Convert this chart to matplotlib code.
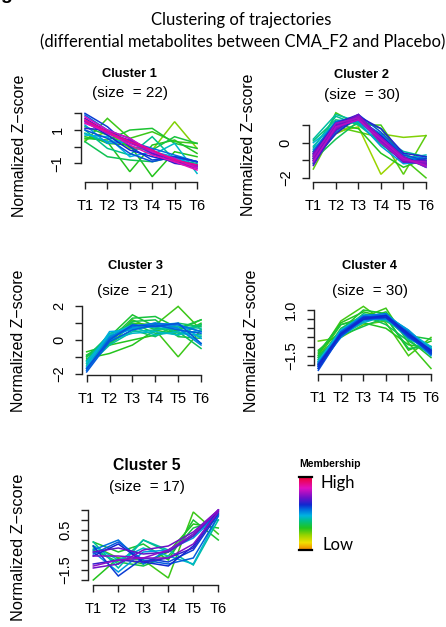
import matplotlib
matplotlib.use("Agg")
import matplotlib.pyplot as plt
import numpy as np
from matplotlib.colors import LinearSegmentedColormap

# ---------------- data ----------------
time_points = [1, 2, 3, 4, 5, 6]
time_labels = ["T1", "T2", "T3", "T4", "T5", "T6"]
cluster_titles = ["Cluster 1", "Cluster 2", "Cluster 3", "Cluster 4", "Cluster 5"]
cluster_sizes = [22, 30, 21, 30, 17]

c1_membership = [0.22, 0.28, 0.30, 0.30, 0.32, 0.33, 0.35, 0.40, 0.45, 0.47, 0.50,
                 0.55, 0.58, 0.60, 0.62, 0.65, 0.70, 0.75, 0.80, 0.83, 0.86, 0.90]
c1_values = [
    [0.4, 0.9, -0.1, -0.2, 1.5, -0.1],
    [0.3, 1.7, 0.5, 0.9, 0.3, 0.2],
    [0.6, 0.3, -1.5, 0.1, 0.4, -0.4],
    [0.8, 0.2, 0.1, -1.8, -0.3, -0.6],
    [0.5, 0.4, 1.0, 1.1, 0.2, -0.1],
    [1.2, 0.7, 0.0, -0.2, 0.6, 0.2],
    [0.3, -0.6, -0.8, -0.9, -0.6, -0.9],
    [1.0, -0.1, -0.5, 0.6, -0.8, -1.0],
    [0.8, 0.3, 0.4, -0.5, 0.2, -1.6],
    [0.7, 0.6, -0.6, -0.3, -0.6, -1.2],
    [1.3, 0.2, 0.3, -0.4, -0.7, -0.9],
    [1.9, 1.0, 0.3, -0.1, -0.5, -0.9],
    [1.0, 0.5, -0.4, -0.9, -0.6, -0.9],
    [2.0, 1.2, 0.0, -0.8, -0.6, -0.9],
    [1.5, 0.7, -0.2, -0.6, -0.9, -1.1],
    [1.1, 1.0, 0.5, -0.4, -1.0, -1.2],
    [1.7, 0.9, 0.3, -0.4, -0.8, -1.1],
    [1.6, 0.8, 0.4, -0.2, -0.9, -1.3],
    [1.5, 0.8, 0.2, -0.3, -0.8, -1.2],
    [1.8, 1.0, 0.5, -0.3, -0.7, -1.3],
    [1.4, 0.9, 0.1, -0.5, -0.9, -1.4],
    [1.6, 0.9, 0.3, -0.2, -0.8, -1.1],
]

c2_membership = [0.20, 0.22, 0.25, 0.27, 0.30, 0.32, 0.35, 0.38, 0.40, 0.42, 0.44, 0.46,
                 0.48, 0.50, 0.52, 0.54, 0.56, 0.58, 0.60, 0.62, 0.64, 0.66, 0.68, 0.70,
                 0.72, 0.74, 0.76, 0.78, 0.80, 0.72]
c2_values = [
    [-0.9, 0.6, 0.9, -1.8, -0.6, -1.2],
    [-0.7, 0.5, 1.1, 0.5, 0.3, 0.4],
    [-1.5, 0.9, 0.6, 0.3, -1.8, 0.4],
    [-0.9, 1.7, 1.0, 1.0, -0.9, -2.0],
    [-1.2, 1.0, 0.8, -0.6, -1.4, -0.9],
    [-0.5, 0.7, 1.3, 0.8, -0.8, -1.1],
    [-1.0, 0.2, 1.2, 0.2, -1.0, -1.3],
    [0.1, 1.3, 1.1, -0.1, -1.0, -0.9],
    [-0.3, 1.5, 1.0, 0.0, -0.7, -1.1],
    [0.2, 1.6, 1.2, 0.3, -0.5, -0.8],
    [-0.2, 1.2, 1.3, 0.1, -0.9, -0.7],
    [0.0, 1.0, 1.4, 0.4, -0.6, -1.3],
    [-0.6, 0.9, 1.5, 0.2, -1.1, -1.0],
    [-0.4, 1.1, 1.2, -0.2, -1.2, -1.1],
    [-0.8, 0.8, 1.3, 0.5, -0.8, -1.4],
    [-1.1, 0.6, 1.4, 0.0, -1.0, -0.8],
    [-0.5, 1.2, 1.5, 0.3, -0.9, -1.2],
    [-0.9, 0.7, 1.6, 0.6, -0.7, -1.0],
    [-1.2, 0.9, 1.4, 0.1, -1.1, -0.9],
    [-0.7, 1.0, 1.3, 0.4, -0.8, -1.3],
    [-1.0, 0.5, 1.5, 0.8, -0.6, -0.8],
    [-0.6, 1.1, 1.6, 0.2, -1.0, -1.1],
    [-1.3, 0.8, 1.4, 0.3, -0.9, -1.2],
    [-0.8, 0.7, 1.5, 0.0, -1.1, -1.0],
    [-0.9, 1.0, 1.4, 0.2, -0.9, -1.3],
    [-0.7, 0.9, 1.3, 0.1, -1.0, -1.2],
    [-1.0, 0.8, 1.5, 0.3, -0.8, -1.4],
    [-0.8, 1.1, 1.4, 0.0, -1.0, -1.1],
    [-1.1, 0.9, 1.3, 0.2, -0.9, -1.3],
    [-0.6, 0.9, 1.6, 0.1, -1.1, -1.2],
]

c3_membership = [0.28, 0.28, 0.30, 0.30, 0.32, 0.33, 0.34, 0.35, 0.36, 0.38, 0.40,
                 0.42, 0.44, 0.45, 0.46, 0.48, 0.50, 0.52, 0.55, 0.57, 0.58]
c3_values = [
    [-0.9, -0.3, 1.0, 0.9, 2.0, 0.6],
    [-1.0, -0.2, 1.2, 0.6, -1.0, 0.6],
    [-0.7, -0.3, 0.0, 0.3, 0.6, 1.2],
    [-1.1, -0.8, -0.3, 0.6, 0.3, 0.9],
    [-1.2, 0.2, 1.5, 0.8, 0.3, 1.0],
    [-0.9, 0.0, 1.3, 1.4, 0.7, 1.2],
    [-1.4, -0.1, 1.1, 1.2, 0.2, 0.1],
    [-1.0, 0.3, 1.0, 0.4, 0.5, -0.5],
    [-1.3, -0.2, 0.6, 0.2, 1.0, 0.8],
    [-1.5, 0.1, 0.9, 0.7, 0.6, 0.9],
    [-1.2, 0.4, 0.7, 1.0, 0.4, 0.3],
    [-1.6, -0.3, 0.5, 0.6, 0.8, 0.7],
    [-1.4, 0.2, 0.8, 0.3, 0.5, 0.2],
    [-1.7, 0.0, 0.4, 0.5, 0.3, 0.6],
    [-1.3, 0.3, 0.9, 0.8, 0.7, -0.2],
    [-1.6, 0.5, 0.6, 0.9, 1.0, 0.1],
    [-1.8, 0.1, 0.7, 0.8, 0.9, 0.5],
    [-1.7, 0.2, 0.8, 1.0, 0.7, -0.3],
    [-1.8, 0.1, 0.8, 1.0, 0.9, 0.5],
    [-1.9, -0.1, 0.6, 0.9, 0.6, 0.4],
    [-1.7, 0.0, 0.9, 0.8, 1.0, -0.2],
]

c4_membership = [0.25, 0.27, 0.28, 0.30, 0.30, 0.32, 0.33, 0.34, 0.35, 0.36, 0.38, 0.40,
                 0.42, 0.44, 0.45, 0.46, 0.48, 0.50, 0.50, 0.52, 0.53, 0.54, 0.55, 0.56,
                 0.57, 0.58, 0.59, 0.60, 0.61, 0.62]
c4_values = [
    [-0.7, -0.5, 0.2, 0.4, -0.3, -1.2],
    [-1.5, 0.4, 1.2, 0.3, -1.5, -0.5],
    [-1.6, 0.2, 0.6, 1.1, -0.8, -2.2],
    [-1.4, 0.3, 0.9, 0.6, -1.2, -0.7],
    [-1.2, -0.2, 0.3, 0.0, -0.9, -1.1],
    [-1.7, -0.1, 1.0, 0.8, -0.6, -1.6],
    [-1.3, 0.2, 0.5, 0.9, -0.4, -0.6],
    [-1.5, -0.4, 0.1, 0.6, -1.1, -1.0],
    [-1.8, 0.0, 0.7, 0.2, -0.7, -1.4],
    [-1.6, -0.3, 0.4, 0.7, -0.2, -1.2],
    [-1.9, -0.2, 0.8, 0.5, -0.5, -1.0],
    [-1.7, -0.5, 0.6, 0.4, -0.3, -1.3],
    [-2.0, -0.1, 0.5, 0.6, -0.6, -1.1],
    [-1.8, -0.4, 0.3, 0.7, -0.1, -1.2],
    [-1.9, -0.2, 0.6, 0.5, -0.4, -1.4],
    [-2.1, -0.3, 0.4, 0.8, -0.2, -1.0],
    [-1.8, -0.1, 0.7, 0.7, -0.5, -1.3],
    [-2.0, -0.4, 0.5, 0.6, -0.3, -1.1],
    [-2.2, -0.2, 0.6, 0.7, -0.1, -1.2],
    [-1.9, -0.3, 0.4, 0.6, -0.4, -1.5],
    [-2.1, -0.5, 0.5, 0.5, -0.2, -1.3],
    [-2.0, -0.2, 0.7, 0.8, -0.3, -1.4],
    [-2.2, -0.4, 0.6, 0.7, -0.4, -1.2],
    [-1.9, -0.3, 0.5, 0.6, -0.2, -1.3],
    [-2.1, -0.2, 0.6, 0.7, -0.3, -1.4],
    [-2.3, -0.4, 0.5, 0.6, -0.5, -1.2],
    [-2.0, -0.3, 0.6, 0.7, -0.4, -1.3],
    [-2.1, -0.4, 0.5, 0.6, -0.3, -1.4],
    [-2.2, -0.3, 0.6, 0.6, -0.4, -1.3],
    [-2.0, -0.3, 0.5, 0.7, -0.3, -1.2],
]

c5_membership = [0.28, 0.30, 0.32, 0.34, 0.40, 0.42, 0.45, 0.50, 0.55, 0.57, 0.60,
                 0.62, 0.66, 0.70, 0.72, 0.74, 0.75]
c5_values = [
    [-0.3, -0.9, -1.0, -1.9, 1.4, 0.3],
    [-2.0, -0.9, -1.2, -0.6, 0.8, 0.6],
    [-0.1, -0.6, -0.2, -1.0, 1.0, 0.0],
    [-0.5, -1.1, -1.3, -0.8, 0.6, 1.0],
    [-0.4, -1.2, 0.0, -0.6, 0.3, 1.3],
    [-0.1, -1.4, 0.0, -0.5, -1.25, 1.0],
    [-0.3, -1.0, -0.4, -0.8, -1.2, 1.2],
    [-0.6, -1.6, -0.6, -0.5, 0.1, 1.3],
    [-0.5, 0.0, -1.2, -0.5, 0.2, 1.4],
    [-0.7, -0.1, -1.0, -1.2, -0.9, 1.2],
    [-0.3, -1.8, -0.9, -1.1, -0.5, 1.3],
    [-0.8, -0.2, -1.1, -1.3, -0.3, 1.5],
    [-1.2, -1.0, -1.1, -0.9, -0.4, 1.4],
    [-0.6, -0.4, -0.7, -0.6, 0.2, 1.5],
    [-1.4, -1.2, -0.5, -0.3, 0.4, 1.5],
    [-0.8, -0.8, -0.9, -0.9, -0.2, 1.4],
    [-1.3, -1.0, -0.9, -0.5, 0.3, 1.5],
]

all_memberships = [c1_membership, c2_membership, c3_membership, c4_membership, c5_membership]
all_values = [c1_values, c2_values, c3_values, c4_values, c5_values]

# membership colour scale (low -> high)
mem_positions = [0.0, 0.10, 0.20, 0.30, 0.40, 0.47, 0.55, 0.62, 0.72, 0.85, 1.0]
mem_colors = ["#F08000", "#F2E000", "#9AD400", "#22C41E", "#00C08A", "#00B4E0",
              "#0070E0", "#1028D0", "#7010C8", "#E010C0", "#F00030"]

main_title = "Clustering of trajectories\n(differential metabolites between CMA_F2 and Placebo)"
y_label = "Normalized Z\u2212score"

# ---------------- layout (pixels) ----------------
W, H = 446, 627
fig = plt.figure(figsize=(W / 100, H / 100), dpi=100)

def fx(x):
    return x / W

def fy(y):
    return 1 - y / H

panels = [
    dict(box=(80.5, 111.7, 201.5, 181.7), ylim=(-2.1, 2.1), yticks=[-1, 0, 1, 2],
         ylab={1: "1", -1: "\u22121"}, title_xy=(129.5, 74, 93), ylab_xy=(20, 146),
         tsize=9.3),
    dict(box=(308.8, 111.0, 430.5, 181.7), ylim=(-2.22, 1.80), yticks=[-2, -1, 0, 1],
         ylab={0: "0", -2: "\u22122"}, title_xy=(361.7, 75, 95), ylab_xy=(248, 145),
         tsize=9.3),
    dict(box=(82.1, 303.7, 205.6, 375.0), ylim=(-2.08, 2.16), yticks=[-2, -1, 0, 1, 2],
         ylab={2: "2", 0: "0", -2: "\u22122"}, title_xy=(135.0, 266, 291), ylab_xy=(19, 341),
         tsize=9.3),
    dict(box=(313.8, 303.8, 435.5, 374.0), ylim=(-2.5, 1.34),
         yticks=[-2.0, -1.5, -1.0, -0.5, 0.0, 0.5, 1.0],
         ylab={1.0: "1.0", -1.5: "\u22121.5"}, title_xy=(369.5, 266, 291), ylab_xy=(252, 341),
         tsize=9.3),
    dict(box=(88.3, 507.2, 223.3, 585.0), ylim=(-2.25, 1.64),
         yticks=[-2.0, -1.5, -1.0, -0.5, 0.0, 0.5, 1.0, 1.5],
         ylab={0.5: "0.5", -1.5: "\u22121.5"}, title_xy=(147.0, 465, 487), ylab_xy=(19, 547),
         tsize=11.3),
]

plt.rcParams["font.family"] = ["Liberation Sans", "DejaVu Sans"]
cmap = LinearSegmentedColormap.from_list("mem", list(zip(mem_positions, mem_colors)))

for i, p in enumerate(panels):
    l, t, r, b = p["box"]
    ax = fig.add_axes([fx(l), fy(b), (r - l) / W, (b - t) / H])
    mem = np.array(all_memberships[i])
    vals = np.array(all_values[i])
    order = np.argsort(mem, kind="stable")
    for k in order:
        ax.plot(time_points, vals[k], color=cmap(mem[k]), lw=1.1, solid_joinstyle="miter")
    ax.set_xlim(0.8, 6.2)
    ax.set_ylim(*p["ylim"])
    for s in ["top", "right"]:
        ax.spines[s].set_visible(False)
    ax.spines["left"].set_bounds(min(p["yticks"]), max(p["yticks"]))
    ax.spines["bottom"].set_bounds(1, 6)
    for s in ["left", "bottom"]:
        ax.spines[s].set_linewidth(1.0)
        ax.spines[s].set_color("#222222")
    ax.set_xticks(time_points)
    ax.set_xticklabels(time_labels, fontsize=10.5)
    ax.set_yticks(p["yticks"])
    ax.set_yticklabels([p["ylab"].get(v, "") for v in p["yticks"]], fontsize=10.5,
                       rotation=90, va="center")
    ax.tick_params(axis="both", direction="out", length=5, width=1.0, color="#222222")
    ax.tick_params(axis="x", pad=7.5)
    ax.tick_params(axis="y", pad=6.5)
    ax.set_facecolor("none")

    tx, ty1, ty2 = p["title_xy"]
    fig.text(fx(tx), fy(ty1), cluster_titles[i], ha="center", va="center",
             fontsize=p["tsize"], fontweight="bold")
    fig.text(fx(tx), fy(ty2), "(size  = %d)" % cluster_sizes[i], ha="center", va="center",
             fontsize=11)
    lx, ly = p["ylab_xy"]
    fig.text(fx(lx), fy(ly), y_label, rotation=90, ha="center", va="center",
             fontsize=11.4 if i < 4 else 11.8)

# main title
t1, t2 = main_title.split("\n")
fig.text(fx(241), fy(20), t1, ha="center", va="center", fontsize=12, family=["Lato", "DejaVu Sans"])
fig.text(fx(242.5), fy(42), t2, ha="center", va="center", fontsize=11.9, family=["Lato", "DejaVu Sans"])
# cropped letter from the original figure label
fig.text(fx(0), fy(-1), "g", ha="left", va="baseline", fontsize=14, fontweight="bold")

# membership legend
cax = fig.add_axes([fx(299), fy(550), 13 / W, 73 / H])
grad = np.linspace(0, 1, 256).reshape(-1, 1)
cax.imshow(grad, cmap=cmap, aspect="auto", origin="lower", extent=[0, 1, 0, 1])
cax.set_xticks([])
cax.set_yticks([])
for s in ["left", "right"]:
    cax.spines[s].set_visible(False)
for s in ["top", "bottom"]:
    cax.spines[s].set_linewidth(1.6)
fig.text(fx(330), fy(464), "Membership", ha="center", va="center", fontsize=7.5,
         fontweight="bold")
fig.text(fx(320), fy(483), "High", ha="left", va="center", fontsize=12,
         family=["Lato", "DejaVu Sans"])
fig.text(fx(322), fy(545), "Low", ha="left", va="center", fontsize=12,
         family=["Lato", "DejaVu Sans"])

fig.savefig("out.png", dpi=100, facecolor="white")
